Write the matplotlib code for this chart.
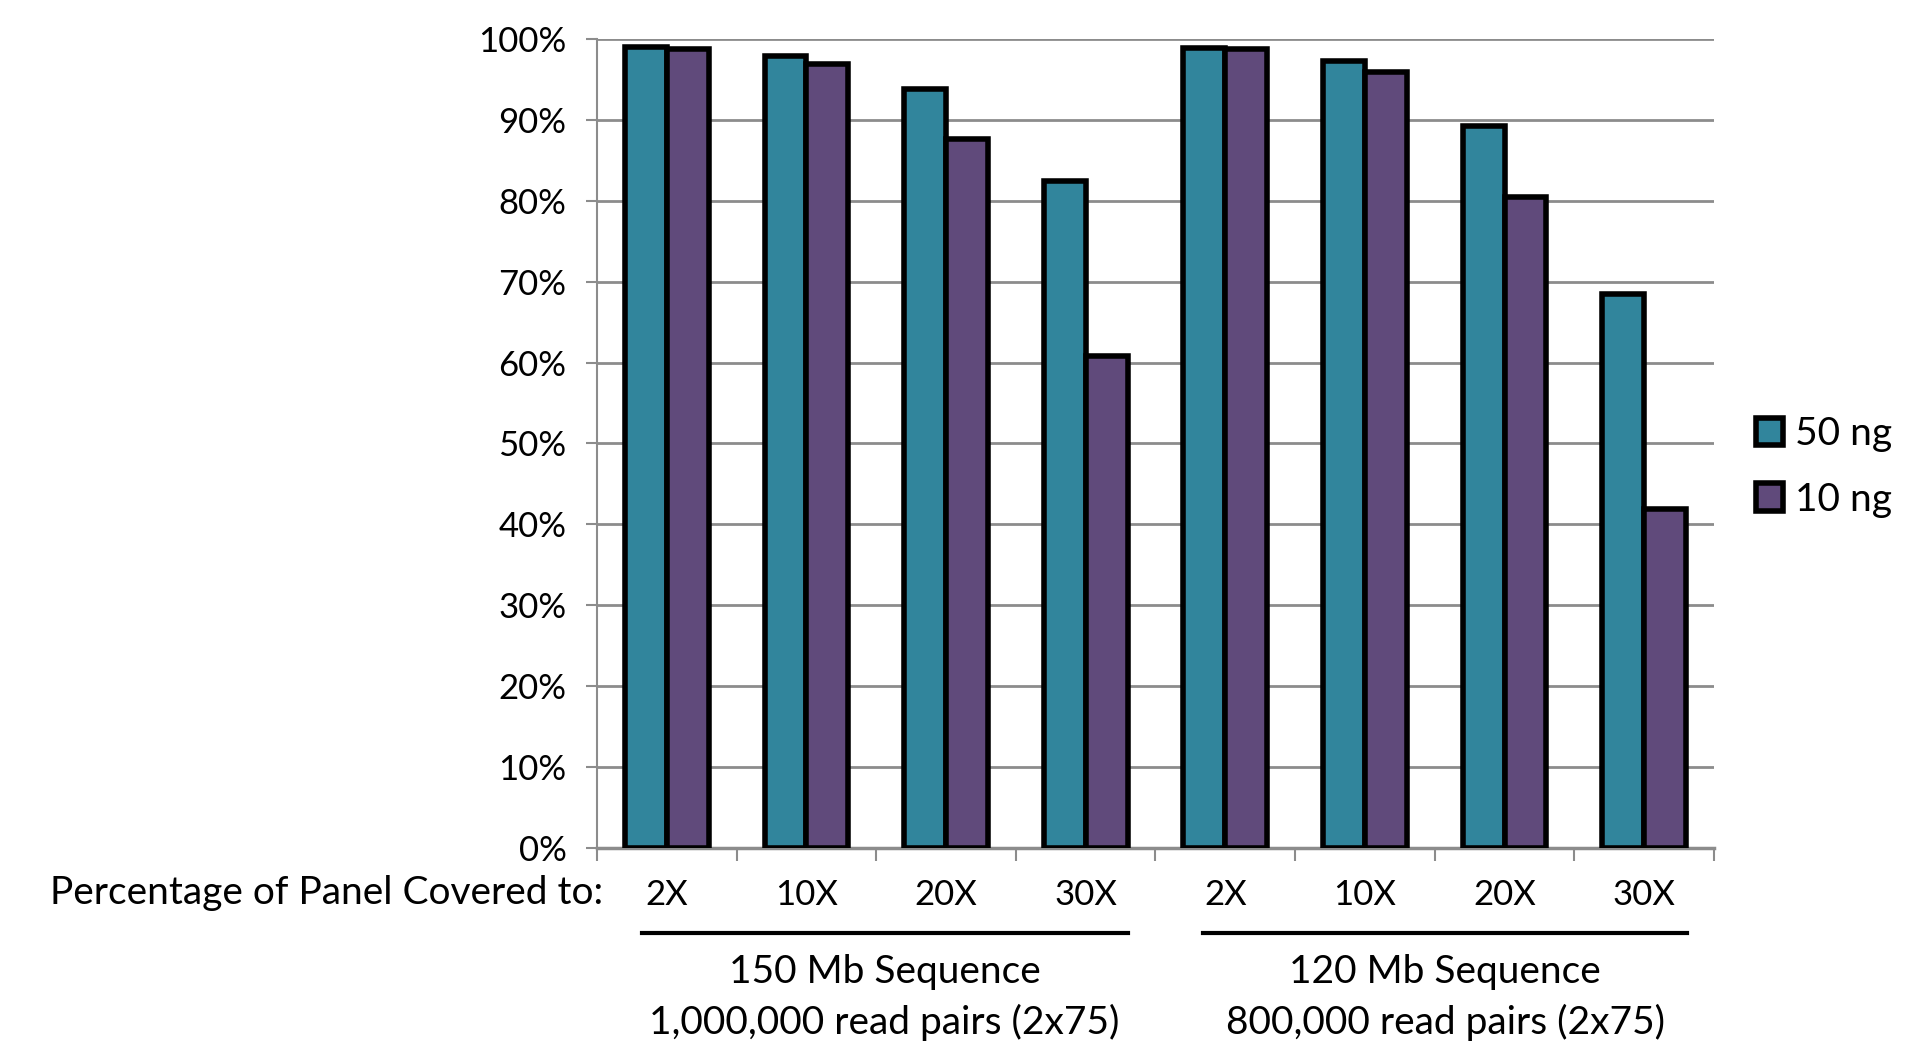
import matplotlib
matplotlib.use("Agg")
import matplotlib.pyplot as plt
import matplotlib.transforms as mtransforms
import numpy as np

plt.rcParams['font.family'] = ['Lato', 'DejaVu Sans']

categories = ["2X", "10X", "20X", "30X", "2X", "10X", "20X", "30X"]
ng50 = [99.0, 97.9, 93.8, 82.5, 98.9, 97.3, 89.2, 68.5]
ng10 = [98.8, 96.9, 87.6, 60.8, 98.8, 95.9, 80.5, 41.9]
groups = ["150 Mb Sequence\n1,000,000 read pairs (2x75)",
          "120 Mb Sequence\n800,000 read pairs (2x75)"]

teal = "#31859c"
purple = "#604a7b"
grid_gray = "#8c8c8c"
fs_tick = 25
fs = 28

fig = plt.figure(figsize=(19.11, 10.45), dpi=100)
ax = fig.add_axes([0.3124, 0.1885, 0.5845, 0.7742])

x = np.arange(len(categories))
w = 0.3
ax.bar(x - w / 2, np.array(ng50) / 100, w, color=teal, edgecolor="black",
       linewidth=4, label="50 ng", zorder=3)
ax.bar(x + w / 2, np.array(ng10) / 100, w, color=purple, edgecolor="black",
       linewidth=4, label="10 ng", zorder=3)

ax.set_ylim(0, 1)
ax.set_xlim(-0.5, len(categories) - 0.5)
ax.set_yticks(np.arange(0, 1.01, 0.1))
ax.set_yticklabels([f"{i * 10}%" for i in range(11)], fontsize=fs_tick)
ax.yaxis.grid(True, color=grid_gray, linewidth=2, zorder=0)
ax.tick_params(axis="y", length=8, width=1.5, color=grid_gray, pad=14)

ax.set_xticks(x)
ax.set_xticklabels(categories, fontsize=fs_tick)
ax.tick_params(axis="x", which="major", length=0, pad=22)
ax.set_xticks(np.arange(-0.5, len(categories), 1), minor=True)
ax.tick_params(axis="x", which="minor", length=9, width=1.5, color=grid_gray)

for s in ["top", "right"]:
    ax.spines[s].set_visible(False)
ax.spines["left"].set_color(grid_gray)
ax.spines["left"].set_linewidth(1.5)
ax.spines["bottom"].set_color(grid_gray)
ax.spines["bottom"].set_linewidth(2.5)

trans = mtransforms.blended_transform_factory(ax.transData, ax.transAxes)
for (x0, x1), label in zip([(-0.18, 3.3), (3.84, 7.31)], groups):
    ax.plot([x0, x1], [-0.105, -0.105], color="black", linewidth=3,
            transform=trans, clip_on=False)
    l1, l2 = label.split("\n")
    xc = (x0 + x1) / 2
    ax.text(xc, -0.153, l1, transform=trans, ha="center", va="center", fontsize=fs)
    ax.text(xc, -0.215, l2, transform=trans, ha="center", va="center", fontsize=fs)

fig.text(603 / 1911, 1 - 893 / 1045, "Percentage of Panel Covered to:",
         ha="right", va="center", fontsize=fs)

fig.legend(loc="center left", bbox_to_anchor=(0.919, 1 - 467 / 1045),
           frameon=False, fontsize=fs, handlelength=0.7, handleheight=0.7,
           handletextpad=0.3, labelspacing=0.75, borderaxespad=0, borderpad=0)

fig.savefig("out.png", dpi=100)
